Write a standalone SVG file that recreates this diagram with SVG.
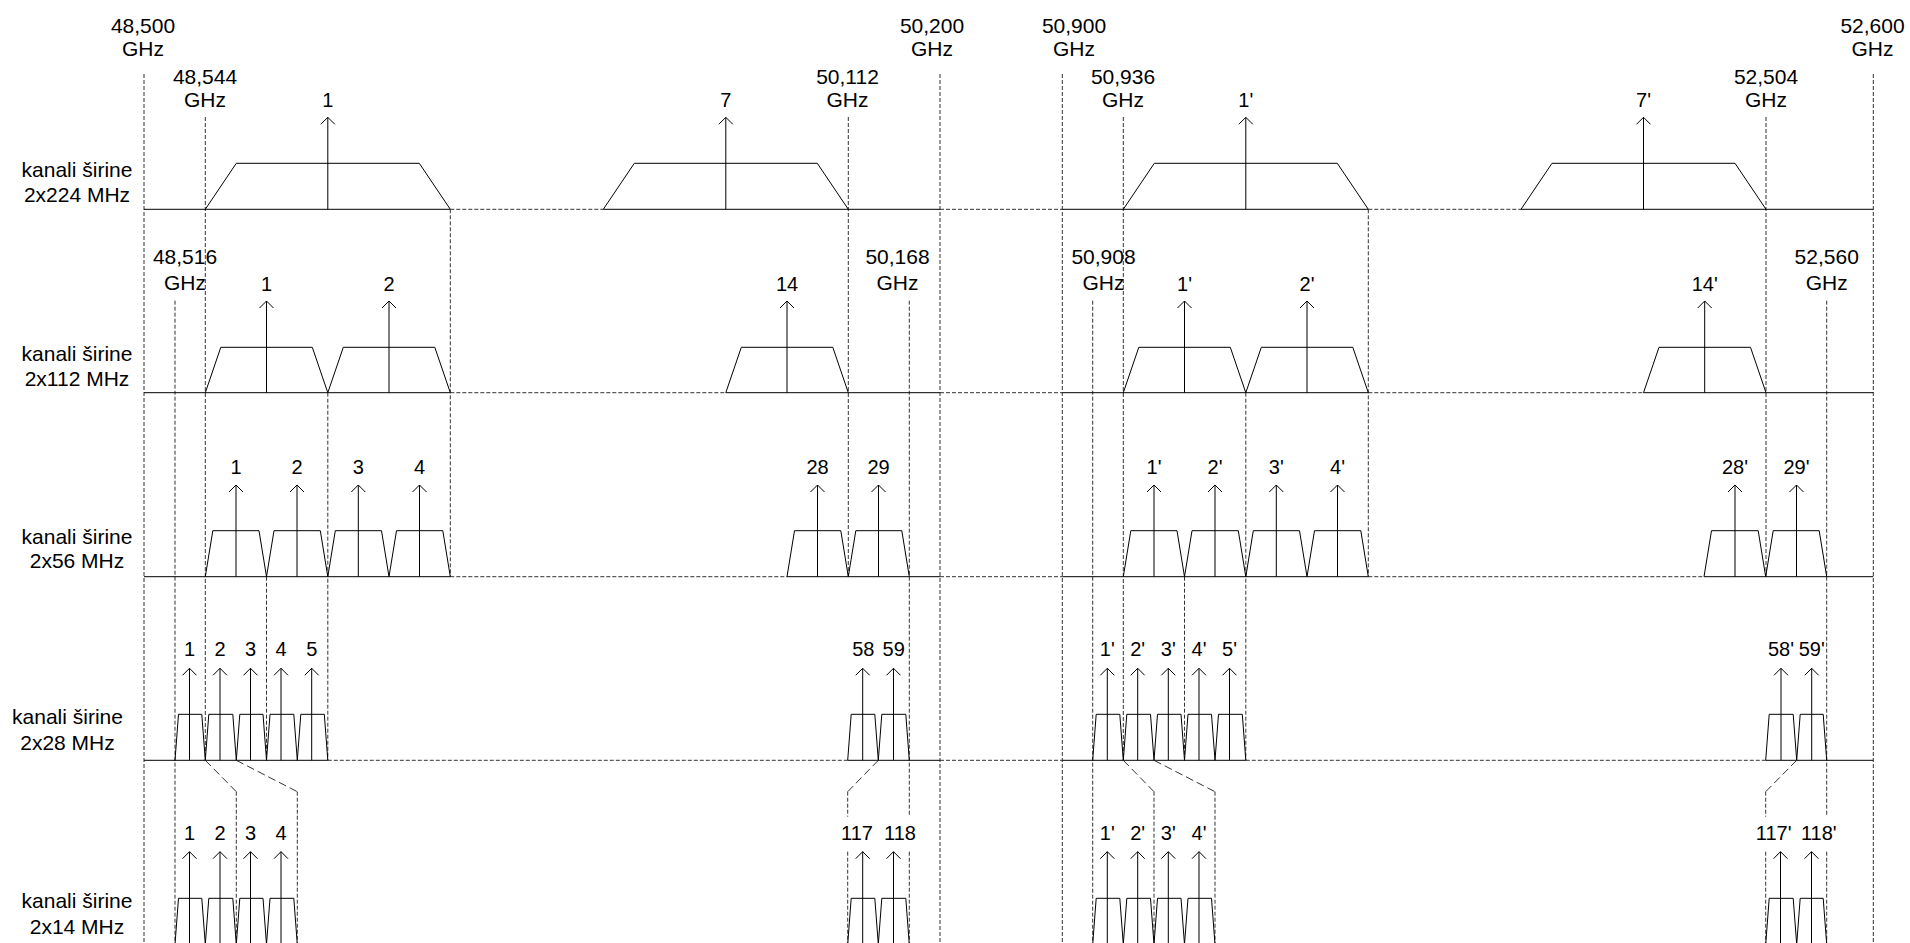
<svg xmlns="http://www.w3.org/2000/svg" width="1910" height="943" viewBox="0 0 1910 943">
<style>
.s{stroke:#000;stroke-width:1;fill:none}
.d{stroke:#333;stroke-width:1;fill:none;stroke-dasharray:4 2}
.dd{stroke:#333;stroke-width:1;fill:none;stroke-dasharray:8 4}
.ar{stroke:#000;stroke-width:1;fill:none;marker-end:url(#ah)}
text{font-family:"Liberation Sans",Arial,sans-serif;fill:#000;text-anchor:middle}
.f{font-size:21px}
.c{font-size:20px}
</style>
<defs>
<marker id="ah" viewBox="-9 -9 18 18" refX="0" refY="0" markerWidth="18" markerHeight="18" markerUnits="userSpaceOnUse" orient="auto">
<path d="M-7,-7 L0,0 L-7,7" fill="none" stroke="#000" stroke-width="1"/>
</marker>
</defs>
<rect width="1910" height="943" fill="#fff"/>

<g id="row-labels" class="f">
<text x="77" y="176.7">kanali širine</text><text x="77" y="201.7">2x224 MHz</text>
<text x="77" y="360.7">kanali širine</text><text x="77" y="385.7">2x112 MHz</text>
<text x="77" y="544">kanali širine</text><text x="77" y="568.3">2x56 MHz</text>
<text x="67.5" y="724.3">kanali širine</text><text x="67.5" y="750">2x28 MHz</text>
<text x="77" y="908.3">kanali širine</text><text x="77" y="934.3">2x14 MHz</text>
</g>

<g id="freq-labels" class="f">
<text x="143" y="33.3">48,500</text><text x="143" y="56">GHz</text>
<text x="205" y="84.3">48,544</text><text x="205" y="106.5">GHz</text>
<text x="847.5" y="84">50,112</text><text x="847.5" y="107">GHz</text>
<text x="932" y="33">50,200</text><text x="932" y="56">GHz</text>
<text x="1074" y="33">50,900</text><text x="1074" y="56">GHz</text>
<text x="1123" y="84">50,936</text><text x="1123" y="107">GHz</text>
<text x="1766" y="84">52,504</text><text x="1766" y="107">GHz</text>
<text x="1872.5" y="33">52,600</text><text x="1872.5" y="56">GHz</text>
<text x="185" y="264.3">48,516</text><text x="185" y="290">GHz</text>
<text x="897.5" y="264">50,168</text><text x="897.5" y="289.5">GHz</text>
<text x="1103.5" y="264">50,908</text><text x="1103.5" y="289.5">GHz</text>
<text x="1826.7" y="264">52,560</text><text x="1826.7" y="289.5">GHz</text>
</g>

<g id="guides">
<path class="d" d="M144,74V943M940,74V943M1062.3,74V943M1873.3,74V943"/>
<path class="d" d="M205.3,117V760.3M848.3,117V576.7M1123.3,117V760.3M1766,117V576.7"/>
<path class="d" d="M175,300.7V943M1092.7,300.7V943M909.3,300.7V816.7M909.3,851.7V943M1826.7,300.7V816.7M1826.7,851.7V943"/>
<path class="d" d="M450.3,209.3V576.7M1368.3,209.3V576.7M327.8,392.7V760.3M1245.8,392.7V760.3M266.5,576.7V760.3M1184.5,576.7V760.3"/>
</g>

<g id="baselines">
<path class="s" d="M144,209.3H450.3M603.3,209.3H940M1062.3,209.3H1368.3M1521,209.3H1873.3"/>
<path class="d" d="M450.3,209.3H603.3M940,209.3H1062.3M1368.3,209.3H1521"/>
<path class="s" d="M144,392.7H450.3M725.8,392.7H940M1062.3,392.7H1368.3M1643.5,392.7H1873.3"/>
<path class="d" d="M450.3,392.7H725.8M940,392.7H1062.3M1368.3,392.7H1643.5"/>
<path class="s" d="M144,576.7H450.3M787,576.7H940M1062.3,576.7H1368.3M1704,576.7H1873.3"/>
<path class="d" d="M450.3,576.7H787M940,576.7H1062.3M1368.3,576.7H1704"/>
<path class="s" d="M144,760.3H327.8M847.7,760.3H940M1062.3,760.3H1245.8M1765.7,760.3H1873.3"/>
<path class="d" d="M327.8,760.3H847.7M940,760.3H1062.3M1245.8,760.3H1765.7"/>
</g>

<g id="connectors">
<path class="dd" d="M205.3,760.3L236.3,791.7M236.3,760.3L297.3,791.7M878.3,760.3L847.7,791.7M1123.3,760.3L1154,791.7M1154,760.3L1215,791.7M1796.7,760.3L1765.7,791.7"/>
<path class="d" d="M236.3,791.7V943M297.3,791.7V943M1154,791.7V943M1215,791.7V943M847.7,791.7V816.7M847.7,851.7V943M1765.7,791.7V816.7M1765.7,851.7V943"/>
</g>

<g id="row-224">
<g id="r1-1"><polyline class="s" points="205.3,209.3 236.3,163.3 419.3,163.3 450.3,209.3"/><line class="ar" x1="327.8" y1="209.3" x2="327.8" y2="117.3"/><text class="c" x="327.8" y="106.5">1</text></g>
<g id="r1-7"><polyline class="s" points="603.3,209.3 634.3,163.3 817.3,163.3 848.3,209.3"/><line class="ar" x1="725.8" y1="209.3" x2="725.8" y2="117.3"/><text class="c" x="725.8" y="106.5">7</text></g>
<g id="r1-1p"><polyline class="s" points="1123.3,209.3 1154.3,163.3 1337.3,163.3 1368.3,209.3"/><line class="ar" x1="1245.8" y1="209.3" x2="1245.8" y2="117.3"/><text class="c" x="1245.8" y="106.5">1'</text></g>
<g id="r1-7p"><polyline class="s" points="1521,209.3 1552,163.3 1735,163.3 1766,209.3"/><line class="ar" x1="1643.5" y1="209.3" x2="1643.5" y2="117.3"/><text class="c" x="1643.5" y="106.5">7'</text></g>
</g>

<g id="row-112">
<g id="r2-1"><polyline class="s" points="205.3,392.7 220.8,347.3 312.3,347.3 327.8,392.7"/><line class="ar" x1="266.5" y1="392.7" x2="266.5" y2="301"/><text class="c" x="266.5" y="290.7">1</text></g>
<g id="r2-2"><polyline class="s" points="327.8,392.7 343.3,347.3 434.8,347.3 450.3,392.7"/><line class="ar" x1="389" y1="392.7" x2="389" y2="301"/><text class="c" x="389" y="290.7">2</text></g>
<g id="r2-14"><polyline class="s" points="725.8,392.7 741.3,347.3 832.8,347.3 848.3,392.7"/><line class="ar" x1="787" y1="392.7" x2="787" y2="301"/><text class="c" x="787" y="290.7">14</text></g>
<g id="r2-1p"><polyline class="s" points="1123.3,392.7 1138.8,347.3 1230.3,347.3 1245.8,392.7"/><line class="ar" x1="1184.5" y1="392.7" x2="1184.5" y2="301"/><text class="c" x="1184.5" y="290.7">1'</text></g>
<g id="r2-2p"><polyline class="s" points="1245.8,392.7 1261.3,347.3 1352.8,347.3 1368.3,392.7"/><line class="ar" x1="1307" y1="392.7" x2="1307" y2="301"/><text class="c" x="1307" y="290.7">2'</text></g>
<g id="r2-14p"><polyline class="s" points="1643.5,392.7 1659,347.3 1750.5,347.3 1766,392.7"/><line class="ar" x1="1704.7" y1="392.7" x2="1704.7" y2="301"/><text class="c" x="1704.7" y="290.7">14'</text></g>
</g>

<g id="row-56">
<g id="r3-1"><polyline class="s" points="205.3,576.7 212.8,530.7 259,530.7 266.5,576.7"/><line class="ar" x1="236" y1="576.7" x2="236" y2="485"/><text class="c" x="236" y="474">1</text></g>
<g id="r3-2"><polyline class="s" points="266.5,576.7 274,530.7 320.3,530.7 327.8,576.7"/><line class="ar" x1="297" y1="576.7" x2="297" y2="485"/><text class="c" x="297" y="474">2</text></g>
<g id="r3-3"><polyline class="s" points="327.8,576.7 335.3,530.7 381.5,530.7 389,576.7"/><line class="ar" x1="358.3" y1="576.7" x2="358.3" y2="485"/><text class="c" x="358.3" y="474">3</text></g>
<g id="r3-4"><polyline class="s" points="389,576.7 396.5,530.7 442.8,530.7 450.3,576.7"/><line class="ar" x1="419.5" y1="576.7" x2="419.5" y2="485"/><text class="c" x="419.5" y="474">4</text></g>
<g id="r3-28"><polyline class="s" points="787,576.7 794.5,530.7 840.8,530.7 848.3,576.7"/><line class="ar" x1="817.5" y1="576.7" x2="817.5" y2="485"/><text class="c" x="817.5" y="474">28</text></g>
<g id="r3-29"><polyline class="s" points="848.3,576.7 855.8,530.7 901.8,530.7 909.3,576.7"/><line class="ar" x1="878.5" y1="576.7" x2="878.5" y2="485"/><text class="c" x="878.5" y="474">29</text></g>
<g id="r3-1p"><polyline class="s" points="1123.3,576.7 1130.8,530.7 1177,530.7 1184.5,576.7"/><line class="ar" x1="1154" y1="576.7" x2="1154" y2="485"/><text class="c" x="1154" y="474">1'</text></g>
<g id="r3-2p"><polyline class="s" points="1184.5,576.7 1192,530.7 1238.3,530.7 1245.8,576.7"/><line class="ar" x1="1215" y1="576.7" x2="1215" y2="485"/><text class="c" x="1215" y="474">2'</text></g>
<g id="r3-3p"><polyline class="s" points="1245.8,576.7 1253.3,530.7 1299.5,530.7 1307,576.7"/><line class="ar" x1="1276.3" y1="576.7" x2="1276.3" y2="485"/><text class="c" x="1276.3" y="474">3'</text></g>
<g id="r3-4p"><polyline class="s" points="1307,576.7 1314.5,530.7 1360.8,530.7 1368.3,576.7"/><line class="ar" x1="1337.5" y1="576.7" x2="1337.5" y2="485"/><text class="c" x="1337.5" y="474">4'</text></g>
<g id="r3-28p"><polyline class="s" points="1704,576.7 1711.5,530.7 1758.2,530.7 1765.7,576.7"/><line class="ar" x1="1735" y1="576.7" x2="1735" y2="485"/><text class="c" x="1735" y="474">28'</text></g>
<g id="r3-29p"><polyline class="s" points="1765.7,576.7 1773.2,530.7 1819.2,530.7 1826.7,576.7"/><line class="ar" x1="1796.5" y1="576.7" x2="1796.5" y2="485"/><text class="c" x="1796.5" y="474">29'</text></g>
</g>

<g id="row-28">
<g id="r4-1"><polyline class="s" points="175,760.3 178.5,714.3 201.8,714.3 205.3,760.3"/><line class="ar" x1="189.5" y1="760.3" x2="189.5" y2="668.3"/><text class="c" x="189.5" y="656">1</text></g>
<g id="r4-2"><polyline class="s" points="205.3,760.3 208.8,714.3 232.8,714.3 236.3,760.3"/><line class="ar" x1="220" y1="760.3" x2="220" y2="668.3"/><text class="c" x="220" y="656">2</text></g>
<g id="r4-3"><polyline class="s" points="236.3,760.3 239.8,714.3 263,714.3 266.5,760.3"/><line class="ar" x1="250.5" y1="760.3" x2="250.5" y2="668.3"/><text class="c" x="250.5" y="656">3</text></g>
<g id="r4-4"><polyline class="s" points="266.5,760.3 270,714.3 293.8,714.3 297.3,760.3"/><line class="ar" x1="281" y1="760.3" x2="281" y2="668.3"/><text class="c" x="281" y="656">4</text></g>
<g id="r4-5"><polyline class="s" points="297.3,760.3 300.8,714.3 324.3,714.3 327.8,760.3"/><line class="ar" x1="311.7" y1="760.3" x2="311.7" y2="668.3"/><text class="c" x="311.7" y="656">5</text></g>
<g id="r4-58"><polyline class="s" points="847.7,760.3 851.2,714.3 874.8,714.3 878.3,760.3"/><line class="ar" x1="862.7" y1="760.3" x2="862.7" y2="668.3"/><text class="c" x="863.3" y="656">58</text></g>
<g id="r4-59"><polyline class="s" points="878.3,760.3 881.8,714.3 905.8,714.3 909.3,760.3"/><line class="ar" x1="893.5" y1="760.3" x2="893.5" y2="668.3"/><text class="c" x="893.7" y="656">59</text></g>
<g id="r4-1p"><polyline class="s" points="1092.7,760.3 1096.2,714.3 1119.8,714.3 1123.3,760.3"/><line class="ar" x1="1107.3" y1="760.3" x2="1107.3" y2="668.3"/><text class="c" x="1107.3" y="656">1'</text></g>
<g id="r4-2p"><polyline class="s" points="1123.3,760.3 1126.8,714.3 1150.5,714.3 1154,760.3"/><line class="ar" x1="1137.7" y1="760.3" x2="1137.7" y2="668.3"/><text class="c" x="1137.7" y="656">2'</text></g>
<g id="r4-3p"><polyline class="s" points="1154,760.3 1157.5,714.3 1181,714.3 1184.5,760.3"/><line class="ar" x1="1168.3" y1="760.3" x2="1168.3" y2="668.3"/><text class="c" x="1168.3" y="656">3'</text></g>
<g id="r4-4p"><polyline class="s" points="1184.5,760.3 1188,714.3 1211.5,714.3 1215,760.3"/><line class="ar" x1="1199" y1="760.3" x2="1199" y2="668.3"/><text class="c" x="1199" y="656">4'</text></g>
<g id="r4-5p"><polyline class="s" points="1215,760.3 1218.5,714.3 1242.3,714.3 1245.8,760.3"/><line class="ar" x1="1229.5" y1="760.3" x2="1229.5" y2="668.3"/><text class="c" x="1229.5" y="656">5'</text></g>
<g id="r4-58p"><polyline class="s" points="1765.7,760.3 1769.2,714.3 1793.2,714.3 1796.7,760.3"/><line class="ar" x1="1781" y1="760.3" x2="1781" y2="668.3"/><text class="c" x="1781" y="656">58'</text></g>
<g id="r4-59p"><polyline class="s" points="1796.7,760.3 1800.2,714.3 1823.2,714.3 1826.7,760.3"/><line class="ar" x1="1811.7" y1="760.3" x2="1811.7" y2="668.3"/><text class="c" x="1811.7" y="656">59'</text></g>
</g>

<g id="row-14">
<g id="r5-1"><polyline class="s" points="175,944.3 178.5,898.3 201.8,898.3 205.3,944.3"/><line class="ar" x1="189.5" y1="944.3" x2="189.5" y2="851.7"/><text class="c" x="189.5" y="840">1</text></g>
<g id="r5-2"><polyline class="s" points="205.3,944.3 208.8,898.3 232.8,898.3 236.3,944.3"/><line class="ar" x1="220" y1="944.3" x2="220" y2="851.7"/><text class="c" x="220" y="840">2</text></g>
<g id="r5-3"><polyline class="s" points="236.3,944.3 239.8,898.3 263,898.3 266.5,944.3"/><line class="ar" x1="250.5" y1="944.3" x2="250.5" y2="851.7"/><text class="c" x="250.5" y="840">3</text></g>
<g id="r5-4"><polyline class="s" points="266.5,944.3 270,898.3 293.8,898.3 297.3,944.3"/><line class="ar" x1="281" y1="944.3" x2="281" y2="851.7"/><text class="c" x="281" y="840">4</text></g>
<g id="r5-117"><polyline class="s" points="847.7,944.3 851.2,898.3 874.8,898.3 878.3,944.3"/><line class="ar" x1="862.7" y1="944.3" x2="862.7" y2="851.7"/><text class="c" x="857" y="840">117</text></g>
<g id="r5-118"><polyline class="s" points="878.3,944.3 881.8,898.3 905.8,898.3 909.3,944.3"/><line class="ar" x1="893.5" y1="944.3" x2="893.5" y2="851.7"/><text class="c" x="900" y="840">118</text></g>
<g id="r5-1p"><polyline class="s" points="1092.7,944.3 1096.2,898.3 1119.8,898.3 1123.3,944.3"/><line class="ar" x1="1107.3" y1="944.3" x2="1107.3" y2="851.7"/><text class="c" x="1107.3" y="840">1'</text></g>
<g id="r5-2p"><polyline class="s" points="1123.3,944.3 1126.8,898.3 1150.5,898.3 1154,944.3"/><line class="ar" x1="1137.7" y1="944.3" x2="1137.7" y2="851.7"/><text class="c" x="1137.7" y="840">2'</text></g>
<g id="r5-3p"><polyline class="s" points="1154,944.3 1157.5,898.3 1181,898.3 1184.5,944.3"/><line class="ar" x1="1168.3" y1="944.3" x2="1168.3" y2="851.7"/><text class="c" x="1168.3" y="840">3'</text></g>
<g id="r5-4p"><polyline class="s" points="1184.5,944.3 1188,898.3 1211.5,898.3 1215,944.3"/><line class="ar" x1="1199" y1="944.3" x2="1199" y2="851.7"/><text class="c" x="1199" y="840">4'</text></g>
<g id="r5-117p"><polyline class="s" points="1765.7,944.3 1769.2,898.3 1793.2,898.3 1796.7,944.3"/><line class="ar" x1="1780.5" y1="944.3" x2="1780.5" y2="851.7"/><text class="c" x="1773.7" y="840">117'</text></g>
<g id="r5-118p"><polyline class="s" points="1796.7,944.3 1800.2,898.3 1823.2,898.3 1826.7,944.3"/><line class="ar" x1="1811.5" y1="944.3" x2="1811.5" y2="851.7"/><text class="c" x="1818.8" y="840">118'</text></g>
</g>
</svg>
